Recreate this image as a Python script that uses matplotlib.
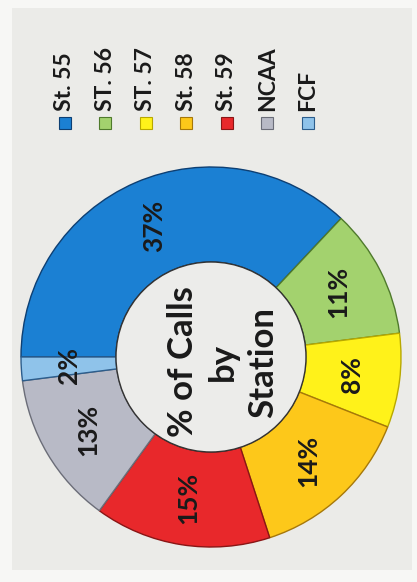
import matplotlib
matplotlib.use("Agg")
import matplotlib.pyplot as plt
from matplotlib.patches import Rectangle, Circle

plt.rcParams['font.family'] = ['Lato', 'DejaVu Sans']

stations = ["St. 55", "ST. 56", "ST. 57", "St. 58", "St. 59", "NCAA", "FCF"]
shares = [37, 11, 8, 14, 15, 13, 2]
colors = ["#1b80d3", "#a3d26e", "#fff21a", "#fdc81a", "#e8282b", "#b8bac6", "#8fc3ea"]
edge_colors = ["#0d3f73", "#4f7a2c", "#b8a800", "#a6780a", "#8a1515", "#6b6d78", "#2c5d8c"]
center_title = "% of Calls\nby\nStation"

W, H = 417, 582
fig = plt.figure(figsize=(W / 100, H / 100), dpi=100)
fig.patch.set_facecolor("#f7f7f5")
ax = fig.add_axes([0, 0, 1, 1])

# panel background
ax.add_patch(Rectangle((12, H - 570), 400, 562, facecolor="#ebebe8", edgecolor="none", zorder=0))

cx, cy, R = 211, H - 357, 190
wedges, texts, autotexts = ax.pie(
    shares, colors=colors, startangle=180, counterclock=False,
    center=(cx, cy), radius=R,
    wedgeprops=dict(width=R * 0.5, linewidth=1.0, edgecolor="#2a2a2a"),
    autopct=lambda p: f"{p:.0f}%", pctdistance=0.75,
    textprops=dict(fontsize=19, fontweight="bold", color="#1a1a1a"),
)
for w, ec in zip(wedges, edge_colors):
    w.set_edgecolor(ec)
    w.set_zorder(2)
for t in autotexts:
    t.set_rotation(90)
    t.set_ha("center")
    t.set_va("center")
    t.set_zorder(3)

# center hole fill
ax.add_patch(Circle((cx, cy), R * 0.5, facecolor="#ececea", edgecolor="#333333", linewidth=1.0, zorder=2.5))

ax.text(cx + 12, cy - 5, center_title, rotation=90, ha="center", va="center",
        fontsize=25, fontweight="bold", color="#1a1a1a", linespacing=1.3, zorder=4)

# legend (rotated, items spread across the top)
x0, dx = 65, 40.5
for i, (name, col, ec) in enumerate(zip(stations, colors, edge_colors)):
    x = x0 + i * dx
    ax.add_patch(Rectangle((x - 6, H - 129), 12, 12, facecolor=col, edgecolor=ec,
                           linewidth=0.8, zorder=3))
    ax.text(x, H - 111, name, rotation=90, rotation_mode="anchor", ha="left", va="center",
            fontsize=16.5, fontweight="bold", color="#1a1a1a", zorder=4)

ax.set_xlim(0, W)
ax.set_ylim(0, H)
ax.set_aspect("auto")
ax.axis("off")
fig.savefig("out.png", dpi=100, facecolor=fig.get_facecolor())
